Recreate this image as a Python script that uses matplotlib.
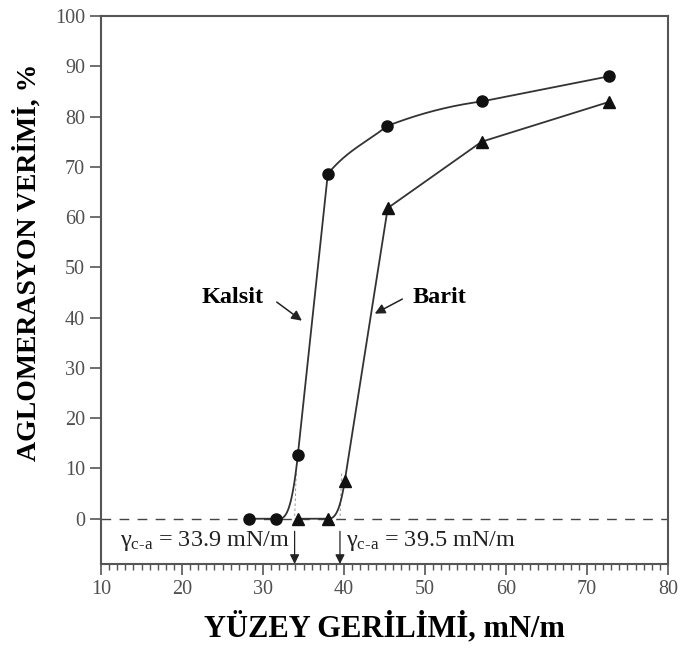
import numpy as np
import matplotlib
matplotlib.use("Agg")
import matplotlib.pyplot as plt
from matplotlib.ticker import MultipleLocator

plt.rcParams['font.family'] = ['Liberation Serif', 'DejaVu Serif']
plt.rcParams['mathtext.fontset'] = 'custom'
plt.rcParams['mathtext.rm'] = 'Liberation Serif'
plt.rcParams['mathtext.it'] = 'Liberation Serif:italic'

# Data
kalsit_x = [28.3, 31.6, 34.3, 38.0, 45.3, 57.0, 72.7]
kalsit_y = [0.0, 0.0, 12.7, 68.6, 78.1, 83.0, 88.0]
barit_x = [34.3, 38.0, 40.1, 45.4, 57.0, 72.7]
barit_y = [0.0, 0.0, 7.6, 61.8, 75.0, 82.9]
gamma_kalsit = 33.9
gamma_barit = 39.5
xlabel = "YÜZEY GERİLİMİ, mN/m"
ylabel = "AGLOMERASYON VERİMİ, %"


def smooth(x, y, bend, npts=80):
    """Piecewise Hermite curve through the points (hand-drawn look)."""
    x = np.asarray(x, float); y = np.asarray(y, float)
    h = np.diff(x); d = np.diff(y) / h
    n = len(x)
    mL = np.zeros(n); mR = np.zeros(n)
    mR[0] = d[0]; mL[-1] = d[-1]
    knee_next = False
    for k in range(1, n - 1):
        if d[k - 1] == 0:
            mL[k] = mR[k] = 0.0
        elif d[k] > d[k - 1]:
            mL[k] = mR[k] = d[k]
        elif d[k - 1] > 3 * d[k]:
            mL[k] = d[k - 1]
            mR[k] = bend * d[k]
            knee_next = True
            continue
        else:
            mL[k] = d[k - 1] * ((2 - bend) if knee_next else 1.0)
            mR[k] = d[k]
        knee_next = False
    xs_all, ys_all = [], []
    for k in range(n - 1):
        t = np.linspace(0, 1, npts)
        h00 = 2 * t**3 - 3 * t**2 + 1; h10 = t**3 - 2 * t**2 + t
        h01 = -2 * t**3 + 3 * t**2; h11 = t**3 - t**2
        yy = h00 * y[k] + h10 * h[k] * mR[k] + h01 * y[k + 1] + h11 * h[k] * mL[k + 1]
        xs_all.append(x[k] + t * h[k]); ys_all.append(yy)
    return np.concatenate(xs_all), np.concatenate(ys_all)


fig = plt.figure(figsize=(6.84, 6.48), dpi=100)
ax = fig.add_axes([0.1477, 0.1296, 0.8289, 0.8457])
ax.set_xlim(10, 80)
ax.set_ylim(-9, 100)

lc = '#333333'
ax.axhline(0, color='#444444', lw=1.0, dashes=(7, 6), zorder=1)

for xs, ys, bend, mk, ms in [(kalsit_x, kalsit_y, 1.5, 'o', 8), (barit_x, barit_y, 1.0, '^', 8.5)]:
    cx, cy = smooth(xs, ys, bend)
    ax.plot(cx, cy, color=lc, lw=1.3, zorder=2)
    ax.plot(xs, ys, linestyle='none', marker=mk, ms=ms, color='#111111', zorder=3)

# faint dashed tangents and arrows to the axis
for g in (gamma_kalsit, gamma_barit):
    ax.plot([g + 0.2, g], [9, 0], color='#888888', lw=0.6, dashes=(3, 3), zorder=1)
    ax.annotate('', xy=(g, -9), xytext=(g, -2.5),
                arrowprops=dict(arrowstyle='-|>', color='#222222', lw=0.9,
                                mutation_scale=14, shrinkA=0, shrinkB=0))

lab = "γ$_{\\mathrm{c\\text{-}a}}$ = %.1f mN/m"
ax.text(gamma_kalsit - 0.6, -4.4, lab % gamma_kalsit,
        ha='right', va='center', fontsize=17.5, color='#222222')
ax.text(gamma_barit + 0.7, -4.4, lab % gamma_barit,
        ha='left', va='center', fontsize=17.5, color='#222222')

arrow_kw = dict(arrowstyle='-|>', color='#222222', lw=1.1, mutation_scale=15,
                shrinkA=0, shrinkB=0)
ax.text(26.3, 44.1, 'Kalsit', ha='center', va='center', fontsize=17.5, fontweight='bold')
ax.annotate('', xy=(34.8, 39.4), xytext=(31.7, 43.1), arrowprops=arrow_kw)
ax.text(51.8, 44.1, 'Barit', ha='center', va='center', fontsize=17.5, fontweight='bold')
ax.annotate('', xy=(43.8, 40.8), xytext=(47.2, 43.7), arrowprops=arrow_kw)

for s in ['left', 'bottom', 'right', 'top']:
    ax.spines[s].set_color('#555555')
    ax.spines[s].set_linewidth(1.5)

ax.xaxis.set_major_locator(MultipleLocator(10))
ax.xaxis.set_minor_locator(MultipleLocator(1))
ax.set_yticks(np.arange(0, 101, 10))
ax.tick_params(axis='both', which='major', direction='out', length=8, width=1.2,
               color='#555555', labelsize=14.5, labelcolor='#505050')
ax.tick_params(axis='x', which='minor', direction='out', length=4, width=1.0, color='#555555')
ax.tick_params(axis='y', which='minor', left=False)

ax.set_xlabel(xlabel, fontsize=22, fontweight='bold', labelpad=9)
ax.set_ylabel(ylabel, fontsize=20, fontweight='bold')
ax.yaxis.set_label_coords(-0.104, 0.551)

fig.savefig('out.png', dpi=100)
